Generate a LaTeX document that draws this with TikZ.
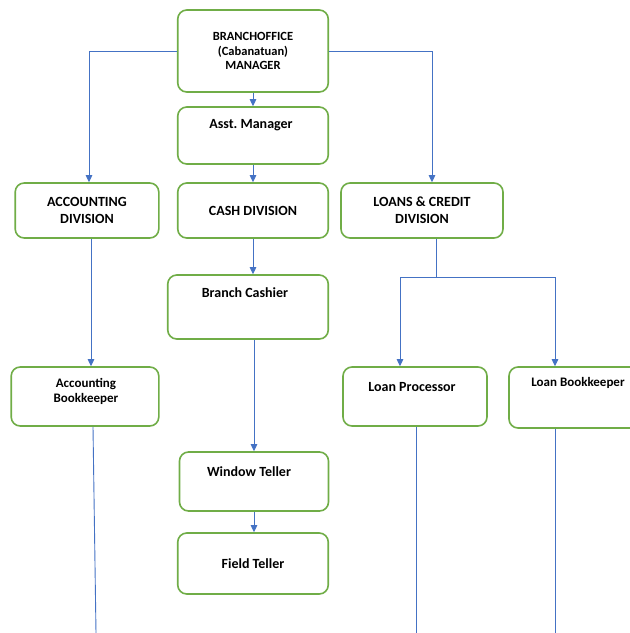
\documentclass[tikz,border=0pt]{standalone}
\usepackage{fontspec}
\setmainfont{Carlito}
\usetikzlibrary{arrows.meta}

\definecolor{boxgreen}{HTML}{70AD47}
\definecolor{linkblue}{HTML}{4472C4}

\tikzset{
  orgbox/.style={draw=boxgreen, line width=1.6pt, rounded corners=9pt, fill=white,
    inner sep=0pt, align=center, font=\bfseries\fontsize{14}{17}\selectfont},
  orglbl/.style={inner sep=0pt, align=center, font=\bfseries\fontsize{14}{17}\selectfont},
  orglink/.style={draw=linkblue, line width=0.9pt, -{Triangle[length=7pt,width=6.5pt]}},
  orgline/.style={draw=linkblue, line width=0.9pt},
}

\begin{document}
\begin{tikzpicture}[x=1pt,y=-1pt]

\useasboundingbox (0,0) rectangle (630,633);

% top of the chart
\node[orgbox, minimum width=150.5pt, minimum height=82pt,
  font=\bfseries\fontsize{12.5}{14.5}\selectfont] (mgr) at (253,51)
  {BRANCHOFFICE\\(Cabanatuan)\\MANAGER};
\node[orgbox, minimum width=150.5pt, minimum height=57pt] (asst) at (253,135.5) {};
\node[orglbl] at (251,125) {Asst.\ Manager};

% divisions
\node[orgbox, minimum width=143.6pt, minimum height=55pt] (accdiv) at (87,210.5) {ACCOUNTING\\DIVISION};
\node[orgbox, minimum width=150.5pt, minimum height=55pt] (cash) at (253,210.5) {CASH DIVISION};
\node[orgbox, minimum width=162pt, minimum height=55pt] (loans) at (422,210.5) {LOANS \& CREDIT\\DIVISION};

% staff
\node[orgbox, minimum width=160.5pt, minimum height=64pt] (cashier) at (248,307) {};
\node[orglbl] at (245,293) {Branch Cashier};

\node[orgbox, minimum width=147.6pt, minimum height=59pt] (accbk) at (85,396.5) {};
\node[orglbl, font=\bfseries\fontsize{13}{15}\selectfont] at (86,391) {Accounting\\Bookkeeper};

\node[orgbox, minimum width=144pt, minimum height=59pt] (lproc) at (415,396.5) {};
\node[orglbl] at (412,387) {Loan Processor};

\node[orgbox, minimum width=138pt, minimum height=61pt] (lbk) at (578,397.5) {};
\node[orglbl, font=\bfseries\fontsize{13}{15}\selectfont] at (578,383) {Loan Bookkeeper};

\node[orgbox, minimum width=149pt, minimum height=59pt] (window) at (254,481.5) {};
\node[orglbl] at (249,472) {Window Teller};

\node[orgbox, minimum width=150.5pt, minimum height=61pt] (field) at (253,563.5) {Field Teller};

% loose ends
\coordinate (fork) at (436,277);
\coordinate (accend) at (96,633);
\coordinate (lpend) at (416,633);
\coordinate (lbkend) at (555,633);

% links
\draw[orglink] (mgr.west) -| ([xshift=2pt]accdiv.north);
\draw[orglink] (mgr.east) -| ([xshift=10pt]loans.north);
\draw[orglink] (mgr.south) -- (asst.north);
\draw[orglink] (asst.south) -- (cash.north);
\draw[orglink] (cash.south) -- (cash.south |- cashier.north);
\draw[orglink] (window.north |- cashier.south) -- (window.north);
\draw[orglink] (window.south) -- (window.south |- field.north);
\draw[orglink] ([xshift=4pt]accdiv.south) -- ([xshift=4pt]accdiv.south |- accbk.north);

\draw[orgline] ([xshift=14pt]loans.south) -- (fork);
\draw[orglink] (fork) -| ([xshift=-15pt]lproc.north);
\draw[orglink] (fork) -| ([xshift=-23pt]lbk.north);

\draw[orgline] ([xshift=8pt]accbk.south) -- (accend);
\draw[orgline] ([xshift=1pt]lproc.south) -- (lpend);
\draw[orgline] ([xshift=-23pt]lbk.south) -- (lbkend);

\end{tikzpicture}
\end{document}
